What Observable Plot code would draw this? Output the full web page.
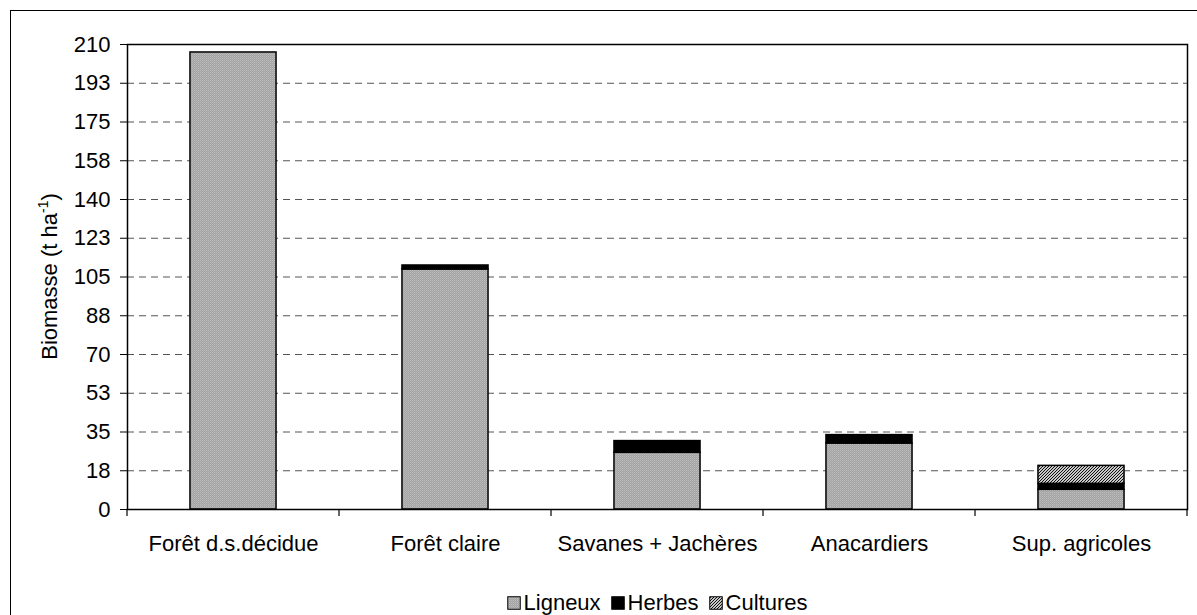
<!DOCTYPE html>
<html><head><meta charset="utf-8">
<script src="https://cdn.jsdelivr.net/npm/d3@7"></script>
<script src="https://cdn.jsdelivr.net/npm/@observablehq/plot@0.6"></script>
<style>
body{margin:0;background:#fff;font-family:"Liberation Sans",Arial,sans-serif;}
#wrap{position:relative;width:1197px;height:615px;overflow:hidden;background:#fff;}
#frame{position:absolute;left:10px;top:10px;width:1200px;height:620px;border:1.5px solid #000;box-sizing:border-box;}
#chart{position:absolute;left:0;top:0;}
#legend{position:absolute;left:127px;width:1060px;top:592px;height:22px;display:flex;justify-content:center;align-items:center;font-size:22px;line-height:22px;color:#000;}
#legend .item{display:flex;align-items:center;margin:0 5px;}
#legend svg{margin-right:3px;}
</style></head>
<body>
<svg width="0" height="0" style="position:absolute">
<defs>
<pattern id="pLig" width="2" height="2" patternUnits="userSpaceOnUse">
<rect width="2" height="2" fill="#a4a4a4"/><rect width="1" height="1" fill="#bdbdbd"/><rect x="1" y="1" width="1" height="1" fill="#b0b0b0"/>
</pattern>
<pattern id="pCult" width="3" height="3" patternUnits="userSpaceOnUse">
<rect width="3" height="3" fill="#c8c8c8"/>
<path d="M-1,1 L1,-1 M0,3 L3,0 M2,4 L4,2" stroke="#111" stroke-width="1"/>
</pattern>
</defs>
</svg>
<div id="wrap">
<div id="frame"></div>
<div id="chart"></div>
<div id="legend"></div>
</div>
<script>
const categories = ["Forêt d.s.décidue", "Forêt claire", "Savanes + Jachères", "Anacardiers", "Sup. agricoles"];
const series = ["Ligneux", "Herbes", "Cultures"];
const ligneux = [206.4, 108.4, 25.6, 29.8, 8.9];
const herbes = [0, 1.8, 5.3, 3.8, 2.7];
const cultures = [0, 0, 0, 0, 8.1];
const yTickValues = [0, 17.5, 35, 52.5, 70, 87.5, 105, 122.5, 140, 157.5, 175, 192.5, 210];
const yTickLabels = ["0", "18", "35", "53", "70", "88", "105", "123", "140", "158", "175", "193", "210"];
const seriesFills = ["url(#pLig)", "#000", "url(#pCult)"];

const rows = [];
[ligneux, herbes, cultures].forEach((vals, s) => vals.forEach((v, i) => {
  if (v > 0) rows.push({cat: categories[i], series: series[s], value: v});
}));

const plot = Plot.plot({
  width: 1197, height: 560,
  marginLeft: 127, marginRight: 10, marginTop: 44, marginBottom: 51,
  style: {fontFamily: "'Liberation Sans', Arial, sans-serif", fontSize: "22px", color: "#000", background: "transparent", overflow: "visible"},
  x: {domain: categories, paddingInner: 0.594, paddingOuter: 0.297, round: false, label: null},
  y: {domain: [0, 210], label: null},
  color: {domain: series, range: seriesFills},
  marks: [
    Plot.gridY(yTickValues.slice(1, -1), {stroke: "#555", strokeOpacity: 1, strokeDasharray: "7,5"}),
    Plot.axisY(yTickValues, {tickFormat: d => yTickLabels[yTickValues.indexOf(d)], tickSize: 7, tickPadding: 10, label: null, fontSize: 22}),
    Plot.axisX({tickSize: 0, tickPadding: 26, label: null, fontSize: 22}),
    Plot.barY(rows, {x: "cat", y: "value", fill: "series", stroke: "#000", strokeWidth: 1.5}),
    Plot.frame({stroke: "#000", strokeWidth: 1.5})
  ]
});
document.getElementById("chart").appendChild(plot);

// category boundary ticks on the x axis, derived from the band scale
const xs = plot.scale("x"), ys = plot.scale("y");
const svg = d3.select(plot);
const y0 = ys.apply(0);
const bounds = categories.map(c => xs.apply(c) + xs.bandwidth / 2 - xs.step / 2);
bounds.push(xs.apply(categories[categories.length - 1]) + xs.bandwidth / 2 + xs.step / 2);
svg.append("g").selectAll("line").data(bounds).join("line")
  .attr("x1", d => d).attr("x2", d => d).attr("y1", y0).attr("y2", y0 + 7)
  .attr("stroke", "#000").attr("stroke-width", 1.2);

// y axis title with superscript
const yc = (ys.range[0] + ys.range[1]) / 2;
const t = svg.append("text")
  .attr("transform", `translate(49,${yc}) rotate(-90)`)
  .attr("text-anchor", "middle").attr("dy", "0.35em")
  .attr("font-size", 22).attr("fill", "#000");
t.append("tspan").text("Biomasse (t ha");
t.append("tspan").attr("font-size", 14).attr("dy", "-0.6em").text("-1");
t.append("tspan").attr("dy", "0.38em").text(")");

// legend
const leg = document.getElementById("legend");
series.forEach((s, i) => {
  const it = document.createElement("span");
  it.className = "item";
  it.innerHTML = `<svg width="14" height="14"><rect x="0.75" y="0.75" width="12.5" height="12.5" fill="${seriesFills[i]}" stroke="#000" stroke-width="1"/></svg><span>${s}</span>`;
  leg.appendChild(it);
});
</script>
</body></html>
